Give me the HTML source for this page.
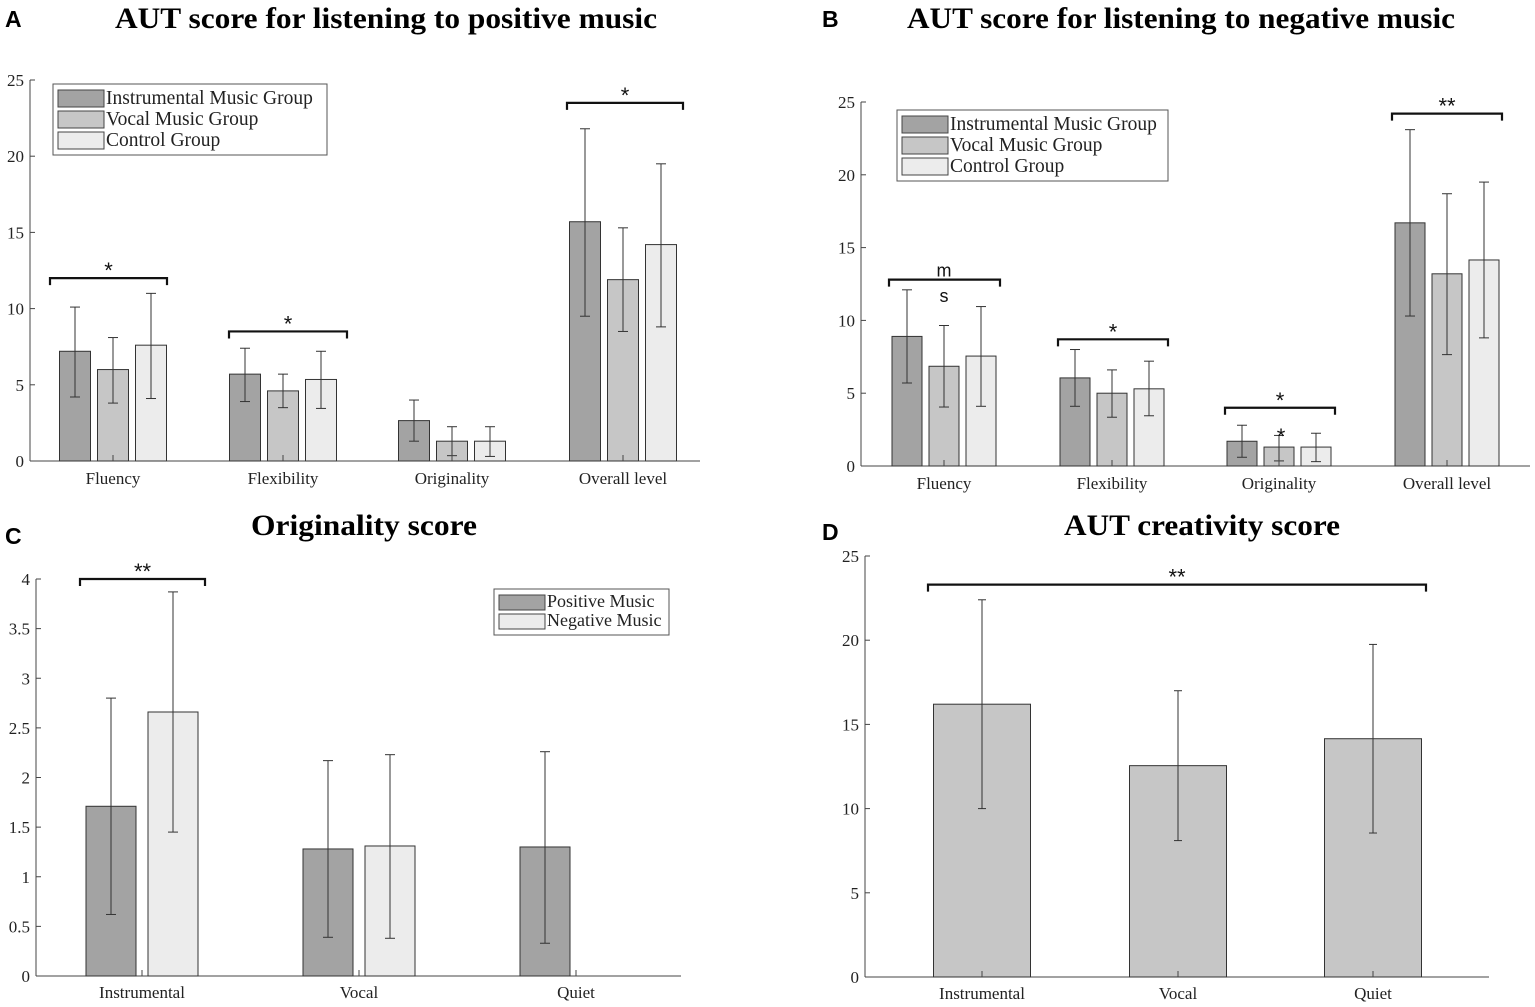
<!DOCTYPE html>
<html><head><meta charset="utf-8"><style>
html,body{margin:0;padding:0;background:#fff;}
svg{display:block;font-family:"Liberation Serif",serif;}
</style></head><body>
<svg id="fig" width="1535" height="1007" viewBox="0 0 1535 1007" xmlns="http://www.w3.org/2000/svg"></svg>
<script>
// ---------- data ----------
const catsAB = ["Fluency","Flexibility","Originality","Overall level"];
const groupsAB = ["Instrumental Music Group","Vocal Music Group","Control Group"];
const aInstr = [7.2,5.7,2.65,15.7];
const aVocal = [6.0,4.6,1.3,11.9];
const aCtrl = [7.6,5.35,1.3,14.2];
const aInstrErr = [[4.2,10.1],[3.9,7.4],[1.3,4.0],[9.5,21.8]];
const aVocalErr = [[3.8,8.1],[3.5,5.7],[0.35,2.25],[8.5,15.3]];
const aCtrlErr = [[4.1,11.0],[3.45,7.2],[0.3,2.25],[8.8,19.5]];
const bInstr = [8.9,6.05,1.7,16.7];
const bVocal = [6.85,5.0,1.3,13.2];
const bCtrl = [7.55,5.3,1.3,14.15];
const bInstrErr = [[5.7,12.1],[4.1,8.0],[0.6,2.8],[10.3,23.1]];
const bVocalErr = [[4.05,9.65],[3.35,6.6],[0.35,2.1],[7.65,18.7]];
const bCtrlErr = [[4.1,10.95],[3.45,7.2],[0.3,2.25],[8.8,19.5]];
const ticks25 = [0,5,10,15,20,25];
const catsCD = ["Instrumental","Vocal","Quiet"];
const cPos = [1.71,1.28,1.30];
const cNeg = [2.66,1.31,0];
const cPosErr = [[0.62,2.80],[0.39,2.17],[0.33,2.26]];
const cNegErr = [[1.45,3.87],[0.38,2.23],null];
const ticksC = [0,0.5,1,1.5,2,2.5,3,3.5,4];
const dVals = [16.2,12.55,14.15];
const dErr = [[10.0,22.4],[8.1,17.0],[8.55,19.75]];

const NS="http://www.w3.org/2000/svg";
const svg=document.getElementById('fig');
function el(tag,attrs,parent,text){const e=document.createElementNS(NS,tag);for(const k in attrs)e.setAttribute(k,attrs[k]);if(text!==undefined)e.textContent=text;(parent||svg).appendChild(e);return e;}
const COL=["#a3a3a3","#c6c6c6","#ececec"];

function axes(g,x0,x1,y0,yTop,vmax,ticks){
  const ys=v=>y0-(y0-yTop)*v/vmax;
  const ax=el('line',{x1:x0,y1:y0,x2:x1,y2:y0,stroke:'#444','stroke-width':1},g);
  
  const ay=el('line',{x1:x0,y1:y0,x2:x0,y2:yTop,stroke:'#444','stroke-width':1},g);
  
  ticks.forEach(t=>{
    el('line',{x1:x0,y1:ys(t),x2:x0+5,y2:ys(t),stroke:'#444'},g);
    const tl=el('text',{x:x0-6,y:ys(t)+6,'text-anchor':'end','font-size':17,fill:'#222'},g,t);
    
  });
  return ys;
}
function errbar(g,x,lo,hi,ys,cap){
  const e=el('g',{},g);
  
  el('line',{x1:x,y1:ys(lo),x2:x,y2:ys(hi),stroke:'#333','stroke-width':1},e);
  el('line',{x1:x-cap,y1:ys(lo),x2:x+cap,y2:ys(lo),stroke:'#333','stroke-width':1},e);
  el('line',{x1:x-cap,y1:ys(hi),x2:x+cap,y2:ys(hi),stroke:'#333','stroke-width':1},e);
}
function bar(g,x,w,v,ys,fill,name){
  const r=el('rect',{x:x-w/2,y:ys(v),width:w,height:ys(0)-ys(v),fill:fill,stroke:'#333','stroke-width':1},g);
  
}
function bracket(g,xa,xb,y,label){
  const b=el('path',{d:`M${xa},${y+7}V${y}H${xb}V${y+7}`,fill:'none',stroke:'#111','stroke-width':2.2},g);
  
  if(label){
    const t=el('text',{x:(xa+xb)/2,y:y,'text-anchor':'middle','font-size':22,'font-family':'"Liberation Sans",sans-serif',fill:'#111'},g,label);
    
  }
}
function legend(g,x,y,w,rowH,names,cols,fs){
  const lg=el('g',{},g);
  
  el('rect',{x:x,y:y,width:w,height:rowH*names.length+8,fill:'#fff',stroke:'#555'},lg);
  names.forEach((n,i)=>{
    const en=el('g',{},lg);
    
    el('rect',{x:x+5,y:y+4+i*rowH+2,width:46,height:rowH-4,fill:cols[i],stroke:'#444'},en);
    el('text',{x:x+53,y:y+4+i*rowH+rowH-5,'font-size':fs,fill:'#222'},en,n);
  });
}
function title(txt,cx,y,len,letter,lx,ly){
  const t=el('text',{x:cx,y:y,'text-anchor':'middle','font-size':30,'font-weight':'bold',textLength:len,lengthAdjust:'spacingAndGlyphs',fill:'#000'},svg,txt);
  
  const l=el('text',{x:lx,y:ly,'font-size':23,'font-weight':'bold','font-family':'"Liberation Sans",sans-serif',fill:'#000'},svg,letter);
  
}

function groupedPanel(name,x0,x1,y0,yTop,centers,off,w,series,errs,leg){
  const g=el('g',{});
  
  const ys=axes(g,x0,x1,y0,yTop,25,ticks25);
  catsAB.forEach((c,i)=>{
    series.forEach((s,k)=>{
      const x=centers[i]+(k-1)*off;
      bar(g,x,w,s[i],ys,COL[k],'bar-'+c.toLowerCase().replace(' ','-')+'-'+k);
      errbar(g,x,errs[k][i][0],errs[k][i][1],ys,5);
    });
    el('line',{x1:centers[i],y1:y0,x2:centers[i],y2:y0-6,stroke:'#444'},g);
    const l=el('text',{x:centers[i],y:y0+23,'text-anchor':'middle','font-size':17,fill:'#222'},g,c);
    
  });
  legend(g,leg[0],leg[1],leg[2],21,groupsAB,COL,19.5);
  return {g,ys};
}
function sig(g,x,y,txt,fs){
  const t=el('text',{x:x,y:y,'text-anchor':'middle','font-size':fs,'font-family':'"Liberation Sans",sans-serif',fill:'#111'},g,txt);
  
}

// Panel A
title("AUT score for listening to positive music",386,28,542,"A",5,27);
const A=groupedPanel('panel-a-chart',30,700,461,80,[113,283,452,623],38,31,[aInstr,aVocal,aCtrl],[aInstrErr,aVocalErr,aCtrlErr],[53,84,274]);
bracket(A.g,50,167,A.ys(12),"*");
bracket(A.g,229,347,A.ys(8.5),"*");
bracket(A.g,567,683,A.ys(23.5),"*");

// Panel B
title("AUT score for listening to negative music",1181,28,548,"B",822,27);
const B=groupedPanel('panel-b-chart',861,1530,466,102,[944,1112,1279,1447],37,30,[bInstr,bVocal,bCtrl],[bInstrErr,bVocalErr,bCtrlErr],[897,110,271]);
bracket(B.g,889,1000,B.ys(12.8),"");
sig(B.g,944,B.ys(12.8)-3,"m",18);
sig(B.g,944,302,"s",18);
bracket(B.g,1058,1168,B.ys(8.7),"*");
bracket(B.g,1225,1335,B.ys(4.0),"*");
sig(B.g,1281,B.ys(1.3)-3,"*",22);
bracket(B.g,1392,1502,B.ys(24.2),"**");

// Panel C
title("Originality score",364,535,226,"C",5,544);
(function(){
  const g=el('g',{});
  
  const y0=976,yTop=579;
  const ys=axes(g,36,681,y0,yTop,4,ticksC);
  const centers=[142,359,576];
  catsCD.forEach((c,i)=>{
    bar(g,centers[i]-31,50,cPos[i],ys,COL[0],'bar-positive-'+c.toLowerCase());
    errbar(g,centers[i]-31,cPosErr[i][0],cPosErr[i][1],ys,5);
    if(cNeg[i]>0){bar(g,centers[i]+31,50,cNeg[i],ys,COL[2],'bar-negative-'+c.toLowerCase());}
    if(cNegErr[i]) errbar(g,centers[i]+31,cNegErr[i][0],cNegErr[i][1],ys,5);
    el('line',{x1:centers[i],y1:y0,x2:centers[i],y2:y0-6,stroke:'#444'},g);
    const l=el('text',{x:centers[i],y:y0+22,'text-anchor':'middle','font-size':17,fill:'#222'},g,c);
    
  });
  bracket(g,80,205,ys(4),"**");
  legend(g,494,589,175,19,["Positive Music","Negative Music"],[COL[0],COL[2]],18);
})();

// Panel D
title("AUT creativity score",1202,535,276,"D",822,540);
(function(){
  const g=el('g',{});
  
  const y0=977,yTop=556;
  const ys=axes(g,865,1489,y0,yTop,25,ticks25);
  const centers=[982,1178,1373];
  catsCD.forEach((c,i)=>{
    bar(g,centers[i],97,dVals[i],ys,COL[1],'bar-'+c.toLowerCase());
    errbar(g,centers[i],dErr[i][0],dErr[i][1],ys,4);
    el('line',{x1:centers[i],y1:y0,x2:centers[i],y2:y0-6,stroke:'#444'},g);
    const l=el('text',{x:centers[i],y:y0+22,'text-anchor':'middle','font-size':17,fill:'#222'},g,c);
    
  });
  bracket(g,928,1426,ys(23.3),"**");
})();
</script>
</body></html>
